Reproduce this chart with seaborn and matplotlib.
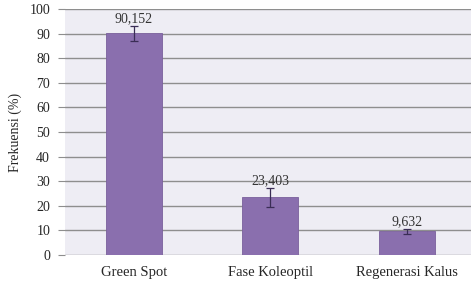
import pandas as pd
import seaborn as sns
import matplotlib.pyplot as plt

# data
tahap = ["Green Spot", "Fase Koleoptil", "Regenerasi Kalus"]
frekuensi = [90.152, 23.403, 9.632]
galat = [3.0, 4.0, 1.0]
label_nilai = ["90,152", "23,403", "9,632"]

df = pd.DataFrame({"tahap": tahap, "frekuensi": frekuensi})

sns.set_style("white")
plt.rcParams["font.family"] = ["Liberation Serif", "DejaVu Serif"]

fig = plt.figure(figsize=(4.71, 2.88), dpi=100)
ax = fig.add_axes([65.4 / 471, 33 / 288, 410 / 471, 246 / 288])
ax.set_facecolor("#eeedf4")

sns.barplot(data=df, x="tahap", y="frekuensi", color="#8a6fae",
            width=0.41, saturation=1, errorbar=None, zorder=3,
            edgecolor="#7a609c", linewidth=0.6, ax=ax)

# error bars and value labels
for i, (v, e, lab) in enumerate(zip(frekuensi, galat, label_nilai)):
    ax.errorbar(i, v, yerr=e, color="#3a2d55", capsize=3, lw=0.9,
                capthick=0.9, zorder=4)
    ax.text(i, v + e + 0.3, lab, ha="center", va="bottom",
            fontsize=10, color="#333333", zorder=5)

ax.set_ylim(0, 100)
ax.set_yticks(range(0, 101, 10))
ax.set_xlim(-0.5, 2.5)
ax.yaxis.grid(True, color="#8e8e8e", lw=1)
ax.set_axisbelow(True)

for s in ax.spines.values():
    s.set_visible(False)

ax.set_xticks([0.5, 1.5], minor=True)
ax.tick_params(axis="x", which="major", length=0, pad=8, labelsize=10.5)
ax.tick_params(axis="x", which="minor", length=4, color="#9a9a9a",
               direction="out")
ax.tick_params(axis="y", length=5, color="#8e8e8e", labelsize=10, pad=6,
               left=True)

ax.set_xlabel("")
ax.set_ylabel("Frekuensi (%)", fontsize=10, labelpad=5)

fig.savefig("out.png", dpi=100)
